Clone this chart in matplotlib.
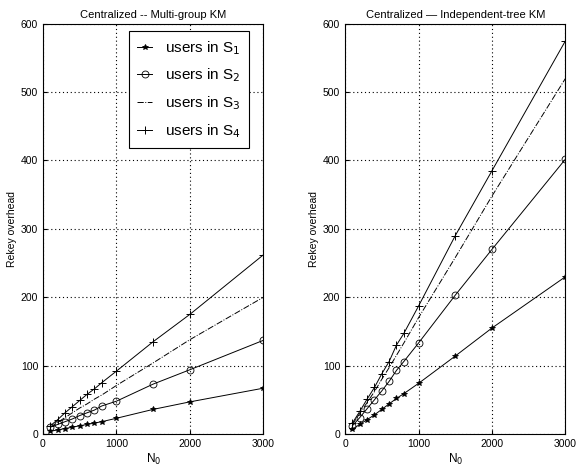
import matplotlib
matplotlib.use('Agg')
import matplotlib.pyplot as plt

plt.rcParams['font.family'] = ['Liberation Sans', 'DejaVu Sans']

# group size N0
n0 = [100, 200, 300, 400, 500, 600, 700, 800, 1000, 1500, 2000, 3000]

# Multi-group KM
mg_s1 = [4, 6, 8, 10, 12, 14, 16, 18, 23, 36, 47, 67]
mg_s2 = [10, 14, 18, 22, 27, 31, 35, 41, 48, 73, 94, 137]
mg_s3 = [10, 17, 24, 31, 38, 44, 51, 57, 71, 104, 138, 200]
mg_s4 = [12, 21, 31, 40, 49, 58, 66, 75, 92, 135, 175, 262]

# Independent-tree KM
it_s1 = [7, 14, 21, 28, 36, 44, 52, 59, 74, 114, 155, 230]
it_s2 = [12, 24, 37, 50, 63, 77, 93, 106, 133, 203, 270, 402]
it_s3 = [14, 30, 46, 62, 80, 97, 115, 133, 170, 258, 348, 520]
it_s4 = [16, 33, 51, 68, 88, 106, 130, 147, 187, 290, 385, 575]

labels = [r'users in S$_1$', r'users in S$_2$', r'users in S$_3$', r'users in S$_4$']
titles = ['Centralized -- Multi-group KM', 'Centralized \u2014 Independent-tree KM']

fig = plt.figure(figsize=(5.77, 4.70), dpi=100)
ax1 = fig.add_axes([0.0745, 0.0766, 0.382, 0.873])
ax2 = fig.add_axes([0.598, 0.0766, 0.382, 0.873])


def draw(ax, s1, s2, s3, s4, title):
    ax.plot(n0, s1, color='k', lw=0.7, marker='*', ms=4, mew=0.6)
    ax.plot(n0, s2, color='k', lw=0.7, marker='o', ms=5, mfc='none', mew=0.6)
    ax.plot(n0, s3, color='k', lw=0.7, ls='-.')
    ax.plot(n0, s4, color='k', lw=0.7, marker='+', ms=6, mew=0.7)
    ax.set_xlim(0, 3000)
    ax.set_ylim(0, 600)
    ax.set_xticks([0, 1000, 2000, 3000])
    ax.set_yticks(range(0, 601, 100))
    ax.grid(True, color='k', ls=(0, (1, 2.5)), lw=0.8)
    ax.tick_params(direction='in', labelsize=7.5, length=3)
    ax.set_title(title, fontsize=8, pad=4)
    ax.set_xlabel(r'N$_0$', fontsize=8.5, labelpad=2)
    ax.set_ylabel('Rekey overhead', fontsize=7.5, labelpad=3)
    for sp in ax.spines.values():
        sp.set_linewidth(0.8)


draw(ax1, mg_s1, mg_s2, mg_s3, mg_s4, titles[0])
draw(ax2, it_s1, it_s2, it_s3, it_s4, titles[1])

leg = ax1.legend(labels, loc='upper right', bbox_to_anchor=(0.935, 0.983),
                 borderaxespad=0, fontsize=11, frameon=True, fancybox=False,
                 framealpha=1, edgecolor='k', handlelength=1.0, borderpad=0.55,
                 labelspacing=0.65, handletextpad=0.8)
leg.get_frame().set_linewidth(0.8)

fig.savefig('out.png', dpi=100)
